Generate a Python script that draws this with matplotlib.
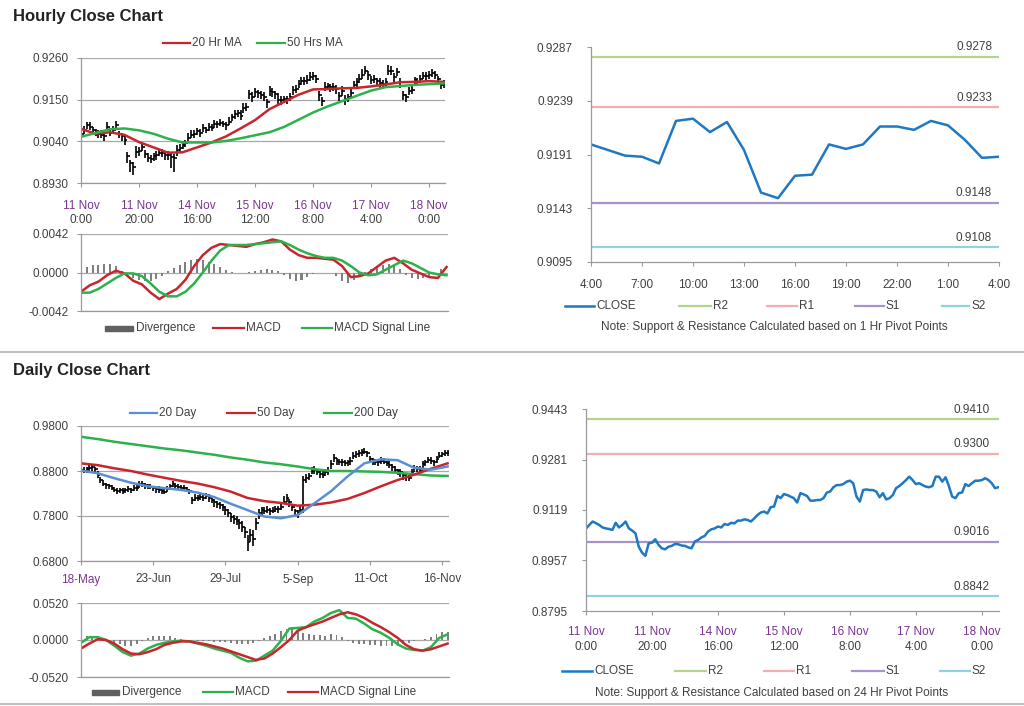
import matplotlib
matplotlib.use('Agg')
import matplotlib.pyplot as plt
from matplotlib.lines import Line2D
from matplotlib.patches import Rectangle
import numpy as np

plt.rcParams['font.family'] = ['Liberation Sans', 'DejaVu Sans']

# ---------------- DATA ----------------
# hourly closes (last ~126 hours)
hourly_close = [
    0.9060, 0.9071, 0.9082, 0.9077, 0.9071, 0.9063, 0.9060, 0.9058, 0.9055, 0.9078,
    0.9063, 0.9071, 0.9082, 0.9060, 0.9053, 0.9044, 0.9001, 0.8982, 0.8972, 0.9012,
    0.9014, 0.9025, 0.9007, 0.8996, 0.8993, 0.9001, 0.9004, 0.9010, 0.9009, 0.9005,
    0.9004, 0.8999, 0.8996, 0.9018, 0.9023, 0.9031, 0.9036, 0.9050, 0.9057, 0.9060,
    0.9066, 0.9063, 0.9074, 0.9071, 0.9078, 0.9076, 0.9085, 0.9085, 0.9089, 0.9087,
    0.9082, 0.9092, 0.9103, 0.9111, 0.9114, 0.9108, 0.9128, 0.9130, 0.9164, 0.9157,
    0.9170, 0.9167, 0.9162, 0.9157, 0.9143, 0.9173, 0.9169, 0.9164, 0.9149, 0.9149,
    0.9151, 0.9151, 0.9157, 0.9175, 0.9178, 0.9192, 0.9199, 0.9199, 0.9202, 0.9210,
    0.9213, 0.9205, 0.9162, 0.9146, 0.9183, 0.9185, 0.9183, 0.9183, 0.9178, 0.9160,
    0.9173, 0.9153, 0.9157, 0.9167, 0.9189, 0.9196, 0.9205, 0.9215, 0.9226, 0.9215,
    0.9202, 0.9205, 0.9199, 0.9194, 0.9192, 0.9196, 0.9226, 0.9226, 0.9210, 0.9224,
    0.9196, 0.9162, 0.9157, 0.9173, 0.9175, 0.9202, 0.9196, 0.9205, 0.9213, 0.9213,
    0.9215, 0.9221, 0.9215, 0.9205, 0.9189, 0.9192]
# bar extent above / below close, in pips
hourly_up = [
    12, 10, 9, 13, 8, 10, 9, 11, 8, 12, 9, 10, 13, 8, 9, 10, 12, 9, 14, 16,
    10, 11, 9, 12, 10, 9, 11, 8, 10, 9, 11, 13, 10, 12, 9, 10, 8, 11, 12, 9,
    10, 9, 11, 8, 10, 9, 12, 9, 10, 8, 9, 11, 10, 12, 9, 16, 13, 10, 11, 12,
    10, 9, 12, 14, 10, 13, 11, 10, 18, 12, 10, 9, 11, 10, 12, 9, 10, 11, 12, 13,
    9, 10, 12, 11, 13, 10, 9, 12, 10, 11, 13, 10, 9, 12, 11, 10, 13, 15, 12, 10,
    11, 10, 9, 12, 10, 11, 15, 12, 10, 9, 11, 10, 9, 10, 12, 9, 11, 10, 9, 10,
    11, 9, 10, 8, 9, 10]
hourly_dn = [
    9, 12, 10, 8, 11, 9, 12, 10, 13, 9, 10, 12, 9, 11, 13, 14, 18, 24, 21, 16,
    13, 10, 12, 11, 10, 13, 12, 10, 11, 13, 14, 29, 37, 16, 12, 10, 11, 10, 9, 12,
    10, 11, 9, 10, 12, 9, 10, 11, 9, 10, 11, 9, 10, 12, 10, 11, 12, 10, 13, 14,
    12, 13, 11, 10, 16, 12, 13, 11, 10, 12, 11, 13, 10, 12, 10, 11, 9, 10, 11, 12,
    10, 12, 16, 14, 11, 10, 12, 11, 13, 14, 12, 16, 13, 11, 10, 12, 11, 10, 9, 12,
    10, 11, 12, 13, 10, 12, 11, 10, 13, 12, 16, 13, 12, 11, 10, 12, 11, 10, 9, 11,
    10, 12, 11, 13, 12, 11]
hourly_ticklabels = [('11 Nov', '0:00'), ('11 Nov', '20:00'), ('14 Nov', '16:00'),
                     ('15 Nov', '12:00'), ('16 Nov', '8:00'), ('17 Nov', '4:00'),
                     ('18 Nov', '0:00')]
# moving averages sampled every 5 hours
hourly_ma20 = [0.9073, 0.9060, 0.9064, 0.9057, 0.9038, 0.9024, 0.9010, 0.9011, 0.9024,
               0.9037, 0.9053, 0.9074, 0.9096, 0.9125, 0.9144, 0.9163, 0.9177, 0.9178,
               0.9180, 0.9181, 0.9185, 0.9190, 0.9196, 0.9197, 0.9199, 0.9197]
hourly_ma50 = [0.9052, 0.9062, 0.9072, 0.9074, 0.9069, 0.9060, 0.9047, 0.9037, 0.9037,
               0.9037, 0.9041, 0.9048, 0.9056, 0.9064, 0.9078, 0.9097, 0.9116, 0.9132,
               0.9146, 0.9160, 0.9174, 0.9183, 0.9186, 0.9189, 0.9191, 0.9193]
# MACD sampled every 3 hours
hourly_macd = [-0.0021, -0.0014, -0.0010, -0.0003, 0.0002, -0.0001, -0.0009, -0.0013,
               -0.0022, -0.0029, -0.0023, -0.0018, -0.0008, 0.0007, 0.0019, 0.0027,
               0.0031, 0.0030, 0.0029, 0.0028, 0.0031, 0.0033, 0.0036, 0.0034, 0.0025,
               0.0019, 0.0016, 0.0016, 0.0015, 0.0014, 0.0007, -0.0005, -0.0004, -0.0001,
               0.0006, 0.0013, 0.0016, 0.0010, 0.0003, -0.0001, -0.0005, -0.0006, 0.0006]
hourly_signal = [-0.0022, -0.0022, -0.0018, -0.0012, -0.0006, -0.0001, -0.0001, -0.0004,
                 -0.0012, -0.0021, -0.0026, -0.0026, -0.0021, -0.0012, 0.0000, 0.0013,
                 0.0024, 0.0030, 0.0030, 0.0030, 0.0031, 0.0032, 0.0033, 0.0034, 0.0030,
                 0.0025, 0.0021, 0.0018, 0.0016, 0.0016, 0.0013, 0.0007, 0.0000, -0.0003,
                 -0.0002, 0.0003, 0.0008, 0.0013, 0.0010, 0.0005, 0.0000, -0.0002, -0.0003]
# divergence every 2 hours (x 1e-4)
hourly_div = [2, 6, 8, 8, 9, 9, 7, 2, -4, -6, -8, -9, -9, -7, -4, 2, 5, 8, 11, 14,
              15, 14, 12, 9, 6, 3, 1, 0, -1, 1, 2, 3, 4, 3, 2, -3, -7, -9, -8, -5,
              -2, -1, -1, -1, -4, -9, -11, -8, -4, 1, 4, 6, 8, 9, 8, 4, -3, -6, -7, -6,
              -4, -2, 4]

# last 24h close vs 1 Hr pivots
pivot1h_close = [0.9200, 0.9195, 0.9190, 0.9189, 0.9183, 0.9221, 0.9223, 0.9211, 0.9220,
                 0.9195, 0.9157, 0.9152, 0.9172, 0.9173, 0.9200, 0.9196, 0.9200, 0.9216,
                 0.9216, 0.9213, 0.9221, 0.9217, 0.9204, 0.9188, 0.9189]
pivot1h_ticklabels = ['4:00', '7:00', '10:00', '13:00', '16:00', '19:00', '22:00', '1:00', '4:00']
pivot1h_levels = {'R2': 0.9278, 'R1': 0.9233, 'S1': 0.9148, 'S2': 0.9108}
pivot24h_levels = {'R2': 0.9410, 'R1': 0.9300, 'S1': 0.9016, 'S2': 0.8842}

# daily closes
daily_close = [
    0.882, 0.881, 0.884, 0.886, 0.888, 0.884, 0.872, 0.860, 0.852, 0.849,
    0.846, 0.843, 0.838, 0.836, 0.838, 0.835, 0.837, 0.839, 0.838, 0.842,
    0.842, 0.851, 0.850, 0.848, 0.846, 0.845, 0.842, 0.840, 0.838, 0.836,
    0.834, 0.840, 0.846, 0.850, 0.847, 0.845, 0.843, 0.842, 0.838, 0.836,
    0.816, 0.820, 0.819, 0.823, 0.821, 0.824, 0.820, 0.815, 0.810, 0.806,
    0.804, 0.799, 0.793, 0.786, 0.778, 0.773, 0.770, 0.764, 0.756, 0.745,
    0.722, 0.738, 0.730, 0.764, 0.786, 0.793, 0.792, 0.794, 0.791, 0.792,
    0.796, 0.795, 0.800, 0.812, 0.819, 0.810, 0.800, 0.790, 0.786, 0.793,
    0.860, 0.864, 0.869, 0.880, 0.882, 0.878, 0.874, 0.872, 0.877, 0.880,
    0.895, 0.908, 0.902, 0.901, 0.899, 0.897, 0.899, 0.902, 0.914, 0.917,
    0.919, 0.922, 0.923, 0.919, 0.906, 0.901, 0.899, 0.900, 0.902, 0.901,
    0.897, 0.894, 0.889, 0.882, 0.879, 0.877, 0.870, 0.866, 0.864, 0.876,
    0.886, 0.884, 0.882, 0.895, 0.899, 0.904, 0.903, 0.899, 0.906, 0.914,
    0.917, 0.919, 0.921]
# bar extent above / below close (x 0.001)
daily_up = [
    6, 7, 5, 8, 6, 5, 7, 6, 8, 5, 6, 5, 7, 6, 5, 8, 6, 7, 5, 6,
    7, 6, 8, 5, 6, 7, 5, 6, 8, 6, 7, 6, 5, 8, 6, 7, 5, 6, 7, 5,
    6, 8, 7, 6, 5, 7, 8, 6, 7, 8, 7, 8, 9, 10, 8, 9, 11, 10, 12, 11,
    16, 14, 18, 12, 10, 8, 7, 8, 6, 7, 7, 8, 10, 12, 9, 8, 7, 6, 8, 10,
    8, 9, 7, 8, 10, 7, 6, 8, 7, 8, 9, 10, 7, 6, 8, 7, 6, 8, 9, 7,
    8, 7, 9, 6, 7, 8, 7, 6, 8, 7, 6, 8, 7, 9, 6, 7, 8, 7, 6, 8,
    7, 6, 8, 7, 6, 8, 7, 6, 7, 8, 6, 7, 6]
daily_dn = [
    7, 6, 8, 5, 7, 6, 8, 7, 6, 8, 7, 6, 5, 7, 8, 6, 7, 5, 6, 7,
    6, 8, 5, 7, 6, 5, 7, 8, 6, 7, 6, 7, 8, 5, 6, 7, 8, 6, 5, 7,
    10, 7, 6, 8, 7, 6, 8, 7, 9, 8, 8, 9, 10, 8, 11, 10, 9, 12, 11, 14,
    20, 15, 16, 14, 12, 10, 8, 7, 8, 6, 7, 8, 7, 6, 8, 10, 9, 11, 10, 8,
    74, 10, 8, 7, 9, 8, 10, 7, 8, 9, 10, 8, 9, 7, 8, 6, 7, 8, 7, 9,
    7, 8, 6, 9, 8, 7, 6, 8, 7, 6, 7, 8, 9, 7, 8, 10, 9, 8, 7, 8,
    8, 7, 6, 8, 7, 6, 8, 7, 8, 6, 7, 6, 8]
daily_ticklabels = ['18-May', '23-Jun', '29-Jul', '5-Sep', '11-Oct', '16-Nov']
# moving averages sampled every 6 days
daily_ma20 = [0.881, 0.875, 0.864, 0.854, 0.846, 0.842, 0.838, 0.832, 0.822, 0.807,
              0.793, 0.779, 0.775, 0.782, 0.808, 0.835, 0.868, 0.897, 0.906, 0.904,
              0.887, 0.883, 0.890]
daily_ma50 = [0.897, 0.893, 0.886, 0.880, 0.872, 0.865, 0.858, 0.852, 0.844, 0.834,
              0.820, 0.813, 0.809, 0.803, 0.805, 0.810, 0.818, 0.831, 0.846, 0.860,
              0.872, 0.885, 0.897]
daily_ma200 = [0.956, 0.951, 0.945, 0.940, 0.935, 0.930, 0.926, 0.921, 0.916, 0.910,
               0.905, 0.899, 0.895, 0.890, 0.884, 0.880, 0.880, 0.879, 0.878, 0.876,
               0.873, 0.870, 0.869]
# MACD sampled every 3 days
daily_macd = [-0.004, 0.004, 0.004, 0.000, -0.008, -0.017, -0.022, -0.019, -0.012, -0.007,
              -0.004, -0.002, -0.001, -0.002, -0.005, -0.008, -0.012, -0.015, -0.018,
              -0.025, -0.030, -0.029, -0.022, -0.015, -0.001, 0.016, 0.017, 0.018, 0.026,
              0.031, 0.038, 0.042, 0.031, 0.030, 0.023, 0.015, 0.010, 0.003, -0.006,
              -0.012, -0.014, -0.015, -0.010, 0.003, 0.008]
daily_signal = [-0.012, -0.005, 0.001, 0.000, -0.005, -0.013, -0.019, -0.020, -0.017,
                -0.013, -0.007, -0.004, -0.002, -0.002, -0.004, -0.006, -0.009, -0.012,
                -0.016, -0.020, -0.024, -0.028, -0.026, -0.019, -0.010, 0.000, 0.013,
                0.018, 0.022, 0.026, 0.031, 0.036, 0.039, 0.036, 0.031, 0.024, 0.018,
                0.011, 0.003, -0.007, -0.013, -0.015, -0.013, -0.009, -0.005]
# divergence every 2 days (x 0.001)
daily_div = [5, 6, 5, 3, 1, -2, -4, -6, -8, -8, -5, -2, 3, 5, 6, 6, 5, 3, 1, 0,
             0, -1, -2, -2, -3, -3, -3, -4, -5, -6, -6, -4, -2, 3, 6, 9, 12, 16, 18, 12,
             10, 9, 7, 7, 6, 9, 7, 4, -2, -4, -5, -6, -7, -7, -8, -9, -8, -8, -6, -4,
             -2, 0, 2, 4, 8, 11, 11]

# ---------------- STYLE ----------------
RED = '#c8252c'
GREEN = '#2bb24c'
BLUE20 = '#5b8fd0'
CLOSE_BLUE = '#1f78c1'
GRID = '#a8a8a8'
SPINE = '#9a9a9a'
TXT = '#404040'
PURPLE = '#7a3592'
DIVG = '#808080'
LEVEL_COLORS = {'R2': '#b5d48e', 'R1': '#eeb0b0', 'S1': '#a793cc', 'S2': '#8fd3e3'}
FS = 8.5

W, H = 1024, 706
fig = plt.figure(figsize=(W / 100, H / 100), dpi=100)


def axes_px(x0, y0, x1, y1):
    return fig.add_axes([x0 / W, 1 - y1 / H, (x1 - x0) / W, (y1 - y0) / H])


def fx(x):
    return x / W


def fy(y):
    return 1 - y / H


def style(ax, grid=True, pad=6):
    for s in ['top', 'right']:
        ax.spines[s].set_visible(False)
    for s in ['left', 'bottom']:
        ax.spines[s].set_color(SPINE)
        ax.spines[s].set_linewidth(0.9)
    ax.tick_params(colors=SPINE, labelcolor=TXT, labelsize=FS, length=3, width=0.8)
    ax.tick_params(axis='y', pad=pad)
    if grid:
        ax.yaxis.grid(True, color=GRID, lw=0.9)
        ax.set_axisbelow(True)


def fmt4(ax):
    ax.set_yticklabels([f'{v:.4f}' for v in ax.get_yticks()])


def two_line_ticks(ax, positions, labels, dy1, dy2):
    ax.set_xticks(positions)
    ax.set_xticklabels([''] * len(positions))
    for p, (l1, l2) in zip(positions, labels):
        ax.annotate(l1, xy=(p, 0), xycoords=('data', 'axes fraction'), xytext=(0, -dy1 * 0.72),
                    textcoords='offset points', ha='center', va='center', fontsize=FS, color=PURPLE)
        ax.annotate(l2, xy=(p, 0), xycoords=('data', 'axes fraction'), xytext=(0, -dy2 * 0.72),
                    textcoords='offset points', ha='center', va='center', fontsize=FS, color=TXT)


def legend_line(x0, x1, y, color, label, lw=1.6):
    fig.add_artist(Line2D([fx(x0), fx(x1)], [fy(y), fy(y)], color=color, lw=lw,
                          transform=fig.transFigure))
    fig.text(fx(x1 + 2), fy(y), label, va='center', ha='left', fontsize=FS, color=TXT)


def legend_bar(x0, x1, y, label):
    fig.add_artist(Rectangle((fx(x0), fy(y + 2.5)), fx(x1 - x0), 5 / H, color='#606060',
                             transform=fig.transFigure))
    fig.text(fx(x1 + 3), fy(y), label, va='center', ha='left', fontsize=FS, color=TXT)


def ohlc(ax, close, up, dn, scale, tick, lw):
    c = np.array(close)
    hi = c + np.array(up) * scale
    lo = c - np.array(dn) * scale
    x = np.arange(len(c))
    ax.vlines(x, lo, hi, color='black', lw=lw)
    ax.hlines(c, x, x + tick, color='black', lw=lw)
    ax.hlines(c[:-1], x[1:] - tick, x[1:], color='black', lw=lw)


# titles and separators
fig.text(fx(13), fy(16), 'Hourly Close Chart', fontsize=12, fontweight='bold', color='#222222',
         va='center', ha='left')
fig.text(fx(13), fy(370), 'Daily Close Chart', fontsize=12, fontweight='bold', color='#222222',
         va='center', ha='left')
for ysep in (352, 704):
    fig.add_artist(Line2D([0, 1], [fy(ysep), fy(ysep)], color='#b4b4b4', lw=1.2,
                          transform=fig.transFigure))

# ---------- A: hourly price ----------
axA = axes_px(81, 58, 445, 183)
ohlc(axA, hourly_close, hourly_up, hourly_dn, 1e-4, 0.5, 1.2)
ma_idx_h = np.arange(0, len(hourly_close), 5)
axA.plot(ma_idx_h, hourly_ma20, color=RED, lw=1.8)
axA.plot(ma_idx_h, hourly_ma50, color=GREEN, lw=1.8)
axA.set_xlim(0, 125.5)
axA.set_ylim(0.8930, 0.9260)
axA.set_yticks([0.8930, 0.9040, 0.9150, 0.9260])
fmt4(axA)
style(axA)
two_line_ticks(axA, np.arange(0, 121, 20), hourly_ticklabels, 23, 37)
legend_line(163, 190, 43, RED, '20 Hr MA')
legend_line(257, 285, 43, GREEN, '50 Hrs MA')

# ---------- C: hourly MACD ----------
axC = axes_px(81, 234, 448, 311)
div_idx_h = np.arange(0, len(hourly_close), 2)
axC.bar(div_idx_h, np.array(hourly_div) * 1e-4, width=0.7, color=DIVG)
macd_idx_h = np.arange(0, 127, 3)
axC.plot(macd_idx_h, hourly_macd, color=RED, lw=1.8)
axC.plot(macd_idx_h, hourly_signal, color=GREEN, lw=1.8)
axC.set_xlim(0, 126.5)
axC.set_ylim(-0.0042, 0.0042)
axC.set_yticks([-0.0042, 0.0, 0.0042])
fmt4(axC)
style(axC)
axC.set_xticks([])
legend_bar(105, 133, 328, 'Divergence')
legend_line(213, 244, 328, RED, 'MACD')
legend_line(302, 332, 328, GREEN, 'MACD Signal Line')

# ---------- B: 1 Hr pivots ----------
axB = axes_px(591, 47, 999, 262)
for name, lvl in pivot1h_levels.items():
    axB.axhline(lvl, color=LEVEL_COLORS[name], lw=1.6)
    axB.annotate(f'{lvl:.4f}', xy=(1, lvl), xycoords=('axes fraction', 'data'), xytext=(-5, 7),
                 textcoords='offset points', ha='right', va='center', fontsize=FS, color=TXT)
axB.plot(np.arange(len(pivot1h_close)), pivot1h_close, color=CLOSE_BLUE, lw=1.8)
axB.set_xlim(0, 24)
axB.set_ylim(0.9095, 0.9287)
axB.set_yticks([0.9095, 0.9143, 0.9191, 0.9239, 0.9287])
fmt4(axB)
style(axB, grid=False, pad=10)
axB.set_xticks(np.arange(0, 25, 3))
axB.set_xticklabels(pivot1h_ticklabels)
axB.tick_params(axis='x', pad=9)
legend_line(565, 594, 306, CLOSE_BLUE, 'CLOSE', lw=1.8)
legend_line(679, 711, 306, LEVEL_COLORS['R2'], 'R2')
legend_line(767, 797, 306, LEVEL_COLORS['R1'], 'R1')
legend_line(855, 884, 306, LEVEL_COLORS['S1'], 'S1')
legend_line(942, 969, 306, LEVEL_COLORS['S2'], 'S2')
fig.text(fx(774), fy(327), 'Note: Support & Resistance Calculated based on 1 Hr Pivot Points',
         ha='center', va='center', fontsize=FS, color=TXT)

# ---------- D: daily price ----------
axD = axes_px(81, 426, 449, 561)
ohlc(axD, daily_close, daily_up, daily_dn, 1e-3, 0.5, 1.2)
ma_idx_d = np.arange(0, len(daily_close), 6)
axD.plot(ma_idx_d, daily_ma200, color=GREEN, lw=1.8)
axD.plot(ma_idx_d, daily_ma50, color=RED, lw=1.8)
axD.plot(ma_idx_d, daily_ma20, color=BLUE20, lw=1.8)
axD.set_xlim(0, 132.5)
axD.set_ylim(0.68, 0.98)
axD.set_yticks([0.68, 0.78, 0.88, 0.98])
fmt4(axD)
style(axD)
axD.set_xticks(np.arange(0, 131, 26))
axD.set_xticklabels(daily_ticklabels)
axD.tick_params(axis='x', pad=6)
for i, lab in enumerate(axD.get_xticklabels()):
    lab.set_color(PURPLE if i == 0 else TXT)
legend_line(130, 157, 413, BLUE20, '20 Day')
legend_line(227, 255, 413, RED, '50 Day')
legend_line(324, 352, 413, GREEN, '200 Day')

# ---------- E: daily MACD ----------
axE = axes_px(81, 603, 449, 677)
div_idx_d = np.arange(0, len(daily_close), 2)
axE.bar(div_idx_d, np.array(daily_div) * 1e-3, width=0.7, color=DIVG)
macd_idx_d = np.arange(0, len(daily_close), 3)
axE.plot(macd_idx_d, daily_macd, color=GREEN, lw=1.8)
axE.plot(macd_idx_d, daily_signal, color=RED, lw=1.8)
axE.set_xlim(0, 132.5)
axE.set_ylim(-0.052, 0.052)
axE.set_yticks([-0.052, 0.0, 0.052])
fmt4(axE)
style(axE)
axE.set_xticks([])
legend_bar(92, 119, 692, 'Divergence')
legend_line(203, 233, 692, GREEN, 'MACD')
legend_line(288, 318, 692, RED, 'MACD Signal Line')

# ---------- F: 24 Hr pivots ----------
axF = axes_px(586, 409, 999, 611)
for name, lvl in pivot24h_levels.items():
    axF.axhline(lvl, color=LEVEL_COLORS[name], lw=1.6)
    axF.annotate(f'{lvl:.4f}', xy=(1, lvl), xycoords=('axes fraction', 'data'), xytext=(-7, 7),
                 textcoords='offset points', ha='right', va='center', fontsize=FS, color=TXT)
axF.plot(np.arange(len(hourly_close)), hourly_close, color=CLOSE_BLUE, lw=1.8)
axF.set_xlim(0, 125.2)
axF.set_ylim(0.8795, 0.9443)
axF.set_yticks([0.8795, 0.8957, 0.9119, 0.9281, 0.9443])
fmt4(axF)
style(axF, grid=False, pad=10)
two_line_ticks(axF, np.arange(0, 121, 20), hourly_ticklabels, 21, 36)
legend_line(562, 592, 671, CLOSE_BLUE, 'CLOSE', lw=1.8)
legend_line(675, 706, 671, LEVEL_COLORS['R2'], 'R2')
legend_line(764, 794, 671, LEVEL_COLORS['R1'], 'R1')
legend_line(852, 884, 671, LEVEL_COLORS['S1'], 'S1')
legend_line(940, 970, 671, LEVEL_COLORS['S2'], 'S2')
fig.text(fx(772), fy(693), 'Note: Support & Resistance Calculated based on 24 Hr Pivot Points',
         ha='center', va='center', fontsize=FS, color=TXT)

fig.savefig('out.png', dpi=100, facecolor='white')
